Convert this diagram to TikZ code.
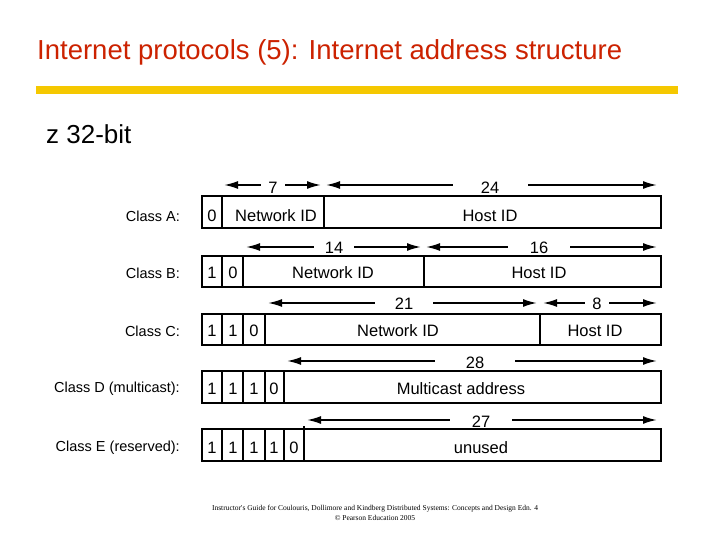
\documentclass[tikz,border=0pt]{standalone}
\usepackage{fontspec}
\setmainfont{Liberation Sans}
\newfontfamily\serifx{Liberation Serif}
\usetikzlibrary{arrows.meta}
\definecolor{titlered}{HTML}{CC2200}
\definecolor{bargold}{HTML}{F5C800}
\begin{document}
\begin{tikzpicture}[x=1pt,y=-1pt,
  cell/.style={draw,line width=2pt},
  txt/.style={font=\fontsize{16.5}{18}\selectfont,inner sep=0pt},
  cls/.style={font=\fontsize{14.5}{16}\selectfont,anchor=east,inner sep=0pt},
  dim/.style={{Latex[length=14pt,width=8pt]}-{Latex[length=14pt,width=8pt]},line width=1.8pt},
  num/.style={font=\fontsize{16.5}{18}\selectfont,fill=white,inner sep=0pt,text height=11pt,text depth=0pt}]
\fill[white] (0,0) rectangle (720,540);
\node[anchor=west,text=titlered,font=\fontsize{27.5}{30}\selectfont,inner sep=0pt] (title) at (37,52) {Internet protocols (5): Internet address structure};
\fill[bargold] (36,86) rectangle (678,94);
\node[anchor=west,font=\fontsize{26}{30}\selectfont,inner sep=0pt] (bul) at (46,134) {z 32-bit};
% dimension arrows
\coordinate (a7l) at (224,185); \coordinate (a7r) at (321,185);
\coordinate (a24l) at (326,185); \coordinate (a24r) at (657,185);
\draw[dim] (a7l)--(a7r); \node[num,minimum width=24pt] (n7) at (273,188) {7};
\draw[dim] (a24l)--(a24r); \node[num,minimum width=75pt] (n24) at (490,188) {24};
\coordinate (b14l) at (246,247); \coordinate (b14r) at (421,247);
\coordinate (b16l) at (426,247); \coordinate (b16r) at (657,247);
\draw[dim] (b14l)--(b14r); \node[num,minimum width=40pt] (n14) at (334,248) {14};
\draw[dim] (b16l)--(b16r); \node[num,minimum width=62pt] (n16) at (539,248) {16};
\coordinate (c21l) at (268,303); \coordinate (c21r) at (537,303);
\coordinate (c8l) at (543,303); \coordinate (c8r) at (657,303);
\draw[dim] (c21l)--(c21r); \node[num,minimum width=58pt] (n21) at (404,304) {21};
\draw[dim] (c8l)--(c8r); \node[num,minimum width=24pt] (n8) at (597,304) {8};
\coordinate (d28l) at (287,361); \coordinate (d28r) at (657,361);
\draw[dim] (d28l)--(d28r); \node[num,minimum width=80pt] (n28) at (475,363) {28};
\coordinate (e27l) at (307,420); \coordinate (e27r) at (657,420);
\draw[dim] (e27l)--(e27r); \node[num,minimum width=62pt] (n27) at (481,422) {27};
% Class A
\node[cls] (la) at (180,216) {Class A:};
\draw[cell] (202,196) rectangle (661,228);
\draw[cell] (222,196)--(222,228) (324,196)--(324,228);
\node[txt] (a0) at (212,216) {0};
\node[txt] (a1) at (276,216) {Network ID};
\node[txt] (a2) at (490,216) {Host ID};
% Class B
\node[cls] (lb) at (180,273) {Class B:};
\draw[cell] (202,256) rectangle (661,287);
\draw[cell] (222,256)--(222,287) (243,256)--(243,287) (424,256)--(424,287);
\node[txt] (b0) at (212,273) {1};
\node[txt] (b1) at (233,273) {0};
\node[txt] (b2) at (333,273) {Network ID};
\node[txt] (b3) at (539,273) {Host ID};
% Class C
\node[cls] (lc) at (180,331) {Class C:};
\draw[cell] (202,314) rectangle (661,345);
\draw[cell] (222,314)--(222,345) (243,314)--(243,345) (265,314)--(265,345) (540,314)--(540,345);
\node[txt] (c0) at (212,331) {1};
\node[txt] (c1) at (233,331) {1};
\node[txt] (c2) at (254,331) {0};
\node[txt] (c3) at (398,331) {Network ID};
\node[txt] (c4) at (595,331) {Host ID};
% Class D
\node[cls] (ld) at (180,389) {Class D (multicast):};
\draw[cell] (202,371) rectangle (661,403);
\draw[cell] (222,371)--(222,403) (243,371)--(243,403) (265,371)--(265,403) (284,371)--(284,403);
\node[txt] (d0) at (212,389) {1};
\node[txt] (d1) at (233,389) {1};
\node[txt] (d2) at (254,389) {1};
\node[txt] (d3) at (274,389) {0};
\node[txt] (d4) at (461,389) {Multicast address};
% Class E
\node[cls] (le) at (180,448) {Class E (reserved):};
\draw[cell] (202,429) rectangle (661,461);
\draw[cell] (222,429)--(222,461) (243,429)--(243,461) (265,429)--(265,461) (284,429)--(284,461);
\draw[line width=2.2pt] (304,426)--(304,461);
\node[txt] (e0) at (212,448) {1};
\node[txt] (e1) at (233,448) {1};
\node[txt] (e2) at (254,448) {1};
\node[txt] (e3) at (274,448) {1};
\node[txt] (e4) at (294,448) {0};
\node[txt] (e5) at (481,448) {unused};
% footer
\node[font=\serifx\fontsize{7.5}{10}\selectfont,align=center,inner sep=0pt] (foot) at (375,513) {Instructor's Guide for  Coulouris, Dollimore and Kindberg   Distributed Systems: Concepts and Design   Edn. 4\\\copyright{}  Pearson Education 2005};
\end{tikzpicture}
\end{document}
